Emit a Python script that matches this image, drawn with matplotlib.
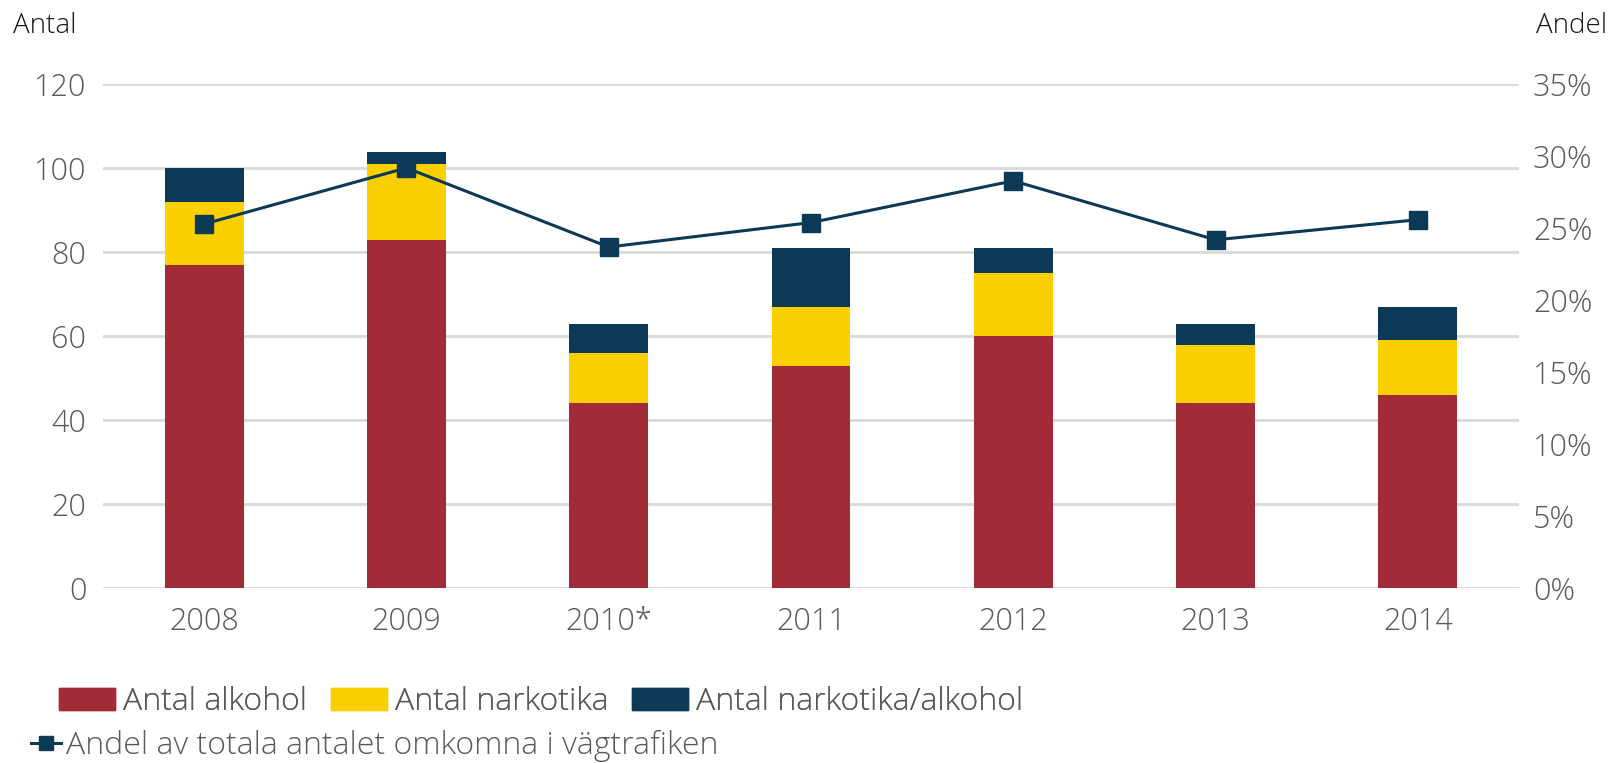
import matplotlib
matplotlib.use("Agg")
import matplotlib.pyplot as plt
from matplotlib.patches import Patch
from matplotlib.lines import Line2D
import numpy as np

years = ["2008", "2009", "2010*", "2011", "2012", "2013", "2014"]
alkohol = [77, 83, 44, 53, 60, 44, 46]
narkotika = [15, 18, 12, 14, 15, 14, 13]
nark_alk = [8, 3, 7, 14, 6, 5, 8]
andel = [25.3, 29.2, 23.7, 25.4, 28.3, 24.2, 25.6]

left_ticks = [0, 20, 40, 60, 80, 100, 120]
right_ticks = [0, 5, 10, 15, 20, 25, 30, 35]

c_red = "#A12C37"
c_yel = "#FCCF00"
c_navy = "#0B3956"
c_grid = "#D9D9D9"
c_text = "#595959"

plt.rcParams['font.family'] = ['Open Sans', 'DejaVu Sans']
plt.rcParams['font.weight'] = 'light'
FS = 22

fig = plt.figure(figsize=(16.17, 7.63), dpi=100)
ax = fig.add_axes([0.0637, 0.2294, 0.8757, 0.6599])
x = np.arange(len(years))
w = 0.39
ax.bar(x, alkohol, w, color=c_red, zorder=2)
b1 = np.array(alkohol)
ax.bar(x, narkotika, w, bottom=b1, color=c_yel, zorder=2)
b2 = b1 + np.array(narkotika)
ax.bar(x, nark_alk, w, bottom=b2, color=c_navy, zorder=2)

ax.set_xlim(-0.5, len(years) - 0.5)
ax.set_ylim(0, 120)
ax.set_yticks(left_ticks)
ax.set_xticks(x)
ax.set_xticklabels(years)
for s in ax.spines.values():
    s.set_visible(False)
ax.grid(axis='y', color=c_grid, linewidth=2, zorder=0)
ax.set_axisbelow(True)
ax.tick_params(axis='y', length=0, pad=12, labelsize=FS, labelcolor=c_text)
ax.tick_params(axis='x', length=0, pad=13, labelsize=FS, labelcolor=c_text)

ax2 = ax.twinx()
ax2.set_ylim(0, 35)
ax2.set_yticks(right_ticks)
ax2.set_yticklabels([f"{t}%" for t in right_ticks])
for s in ax2.spines.values():
    s.set_visible(False)
ax2.tick_params(axis='y', length=0, pad=10, labelsize=FS, labelcolor=c_text)
ax2.plot(x, andel, color=c_navy, linewidth=2.2, marker='s', markersize=13.5, zorder=3)

fig.text(13 / 1617, 1 - 33 / 763, "Antal", fontsize=20, color="#1a1a1a", va='baseline', ha='left')
fig.text(1607 / 1617, 1 - 33 / 763, "Andel", fontsize=20, color="#1a1a1a", va='baseline', ha='right')

LFS = 23
handles1 = [Patch(color=c_red), Patch(color=c_yel), Patch(color=c_navy)]
labels1 = ["Antal alkohol", "Antal narkotika", "Antal narkotika/alkohol"]
leg1 = fig.legend(handles1, labels1, loc='center left', bbox_to_anchor=(59 / 1617, 1 - 702 / 763),
                  ncol=3, frameon=False, fontsize=LFS, handlelength=1.75, handleheight=0.67,
                  handletextpad=0.25, columnspacing=0.75, borderaxespad=0, borderpad=0,
                  labelcolor=c_text)
fig.add_artist(leg1)
h2 = [Line2D([0], [0], color=c_navy, linewidth=2.2, marker='s', markersize=10)]
leg2 = fig.legend(h2, ["Andel av totala antalet omkomna i vägtrafiken"], loc='center left',
                  bbox_to_anchor=(31 / 1617, 1 - 746 / 763), frameon=False, fontsize=LFS,
                  handlelength=0.95, handletextpad=0.15, borderaxespad=0, borderpad=0,
                  labelcolor=c_text)

fig.savefig("out.png", dpi=100)
